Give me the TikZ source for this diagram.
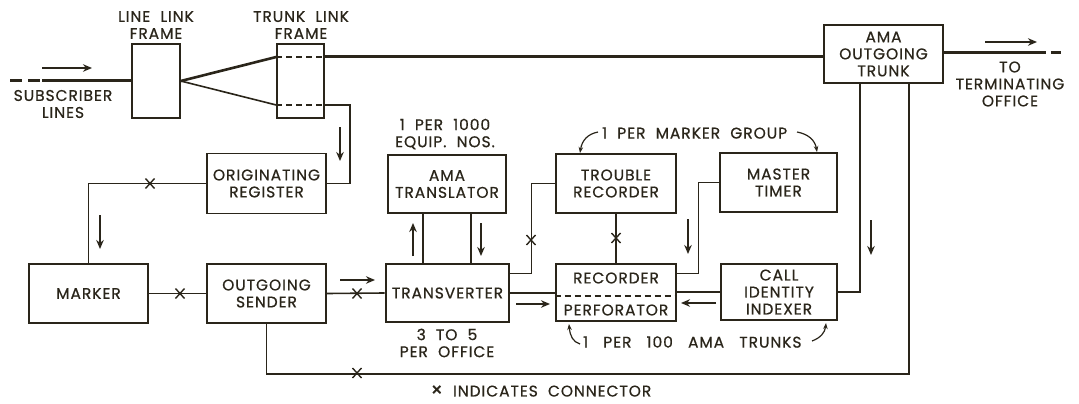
\documentclass[tikz,border=0pt]{standalone}
\usepackage{fontspec}
\newfontfamily\lblfont[LetterSpace=6, WordSpace=2, FakeBold=0.6]{Poppins}
\usetikzlibrary{arrows.meta,calc}
\definecolor{ink}{RGB}{42,37,26}
\begin{document}
\begin{tikzpicture}[x=1pt,y=-1pt,
  lbl/.style={font=\lblfont\fontsize{15.5}{17}\selectfont, text=ink, align=center, inner sep=0pt},
  box/.style={lbl, draw=ink, line width=1.5pt},
  tbox/.style={box, line width=2.8pt},
  conn/.style={draw=ink, line width=1.6pt},
  heavy/.style={draw=ink, line width=3pt},
  flow/.style={draw=ink, line width=2.4pt, -{Stealth[length=9pt,width=7.5pt]}},
  hook/.style={draw=ink, line width=1.2pt, -{Stealth[length=6pt,width=4.5pt]}},
  xmark/.pic={\draw[ink, line width=1.4pt] (-4.5,-5)--(4.5,5) (-4.5,5)--(4.5,-5);}
]
\fill[white] (0,0) rectangle (1079,404);
\useasboundingbox (0,0) rectangle (1079,404);

% boxes
\node[box, minimum width=48pt, minimum height=74pt] (llf) at (156,81) {};
\node[box, minimum width=47pt, minimum height=74pt] (tlf) at (300.5,81) {};
\node[box, minimum width=119pt, minimum height=58pt] (amaout) at (883.5,54) {AMA\\OUTGOING\\TRUNK};
\node[box, minimum width=119pt, minimum height=60pt] (orig) at (266.5,183.5) {ORIGINATING\\REGISTER};
\node[box, minimum width=119pt, minimum height=59pt] (marker) at (88.5,293.5) {MARKER};
\node[box, minimum width=119pt, minimum height=59pt] (sender) at (266.5,293.5) {OUTGOING\\SENDER};
\node[tbox, minimum width=123pt, minimum height=58pt] (transv) at (447.5,293) {TRANSVERTER};
\node[tbox, minimum width=118pt, minimum height=58pt] (transl) at (447,184) {AMA\\TRANSLATOR};
\node[tbox, minimum width=120pt, minimum height=59pt] (trouble) at (616,183.5) {TROUBLE\\RECORDER};
\node[tbox, minimum width=117pt, minimum height=59pt] (timer) at (778.5,182.5) {MASTER\\TIMER};
\node[tbox, minimum width=120pt, minimum height=57pt] (rec) at (616,292.5) {};
\node[lbl] (recl) at (616,278) {RECORDER};
\node[lbl] (perf) at (616,310) {PERFORATOR};
\node[tbox, minimum width=116pt, minimum height=56pt] (index) at (779,292) {CALL\\IDENTITY\\INDEXER};

% labels
\node[lbl] (llft) at (156,25) {LINE LINK\\FRAME};
\node[lbl] (tlft) at (301,25) {TRUNK LINK\\FRAME};
\node[lbl] (subt) at (63,104) {SUBSCRIBER\\LINES};
\node[lbl] (termt) at (1010,84) {TO\\TERMINATING\\OFFICE};
\node[lbl] (equipt) at (445,134) {1 PER 1000\\EQUIP. NOS.};
\node[lbl, anchor=west] (mgt) at (602,133) {1 PER MARKER GROUP};
\node[lbl] (offt) at (447,343) {3 TO 5\\PER OFFICE};
\node[lbl, anchor=west] (trkt) at (583,342) {1\hspace{5pt} PER\hspace{5pt} 100\hspace{5pt} AMA\hspace{5pt} TRUNKS};
\node[lbl] (keyt) at (541,391) {{\fontsize{19}{17}\selectfont ×} INDICATES CONNECTOR};

% link frames and trunk
\coordinate (sub0) at (10,81);
\coordinate (sub1) at (42,81);
\draw[heavy, dash pattern=on 12pt off 6pt] (sub0) -- (sub1);
\draw[heavy] (sub1) -- (llf.west);
\draw[flow] (42,68) -- (92,68);
\coordinate (tA) at ($(tlf.west)+(0,-24)$);
\coordinate (tB) at ($(tlf.east)+(0,-24)$);
\coordinate (tC) at ($(tlf.west)+(0,24)$);
\coordinate (tD) at ($(tlf.east)+(0,24)$);
\draw[ink, line width=2.6pt] (llf.east) -- (tA);
\draw[conn] (llf.east) -- (tC);
\draw[conn, dash pattern=on 6pt off 4pt] (tA) -- (tB) (tC) -- (tD);
\draw[heavy] (tB) -- (tB -| amaout.west);
\coordinate (out1) at ($(amaout.east)+(92,-1)$);
\coordinate (out2) at ($(amaout.east)+(120,-1)$);
\draw[heavy] ($(amaout.east)+(0,-1)$) -- (out1);
\draw[heavy, dash pattern=on 10pt off 5pt] (out1) -- (out2);
\draw[flow] (985,42) -- (1037,42);

% originating register
\draw[conn] (tD) -- ++(25,0) |- (orig.east);
\draw[flow] (340,127) -- (340,161);
\draw[conn] (orig.west) -| (marker.north);
\pic at (150,183.5) {xmark};
\draw[flow] (100,215) -- (100,249);

% marker - sender - transverter
\draw[conn] (marker.east) -- (sender.west);
\pic at (180,293.5) {xmark};
\draw[conn] (sender.east) -- (transv.west);
\pic at (357,293.5) {xmark};
\draw[flow] (340,280) -- (375,280);

% translator
\draw[conn] ($(transl.south)+(-24,0)$) -- ($(transv.north)+(-24.5,0)$);
\draw[conn] ($(transl.south)+(24,0)$) -- ($(transv.north)+(23.5,0)$);
\draw[flow] (413,256) -- (413,223);
\draw[flow] (481,223) -- (481,256);

% transverter - trouble recorder
\draw[conn] ($(transv.north east)+(0,11)$) -- ++(21,0) |- (trouble.west);
\pic at (531,240) {xmark};
\draw[conn] (trouble.south) -- (rec.north);
\pic at (616,238) {xmark};

% recorder - timer
\draw[conn] ($(rec.north east)+(0,11)$) -- ++(21,0) |- (timer.west);
\draw[flow] (688,219) -- (688,254);

% recorder dashed divider
\draw[ink, line width=1.4pt, dash pattern=on 6pt off 4pt] ($(rec.west)+(0,3.5)$) -- ($(rec.east)+(0,3.5)$);

% transverter - recorder - indexer
\draw[conn] (transv.east) -- (transv.east -| rec.west);
\draw[flow] (516,304) -- (550,304);
\draw[conn] (index.west) -- (index.west -| rec.east);
\draw[flow] (716,303) -- (681,303);

% ama outgoing trunk verticals
\coordinate (amaL) at ($(amaout.south west)+(37,0)$);
\coordinate (amaR) at ($(amaout.south east)+(-35,0)$);
\draw[conn] (amaL) |- (index.east);
\draw[flow] (871,220) -- (871,255);
\draw[conn] (sender.south) -- ++(0,50) -| (amaR);
\pic at (357,373) {xmark};

% hooked annotation arrows
\draw[hook] (598,132) .. controls (588,134) and (582,140) .. (580,153);
\draw[hook] (797,132) .. controls (808,134) and (815,140) .. (817,152);
\draw[hook] (580,344) .. controls (573,342) and (570,336) .. (569,324);
\draw[hook] (812,341) .. controls (820,338) and (825,333) .. (826,323);
\end{tikzpicture}
\end{document}
